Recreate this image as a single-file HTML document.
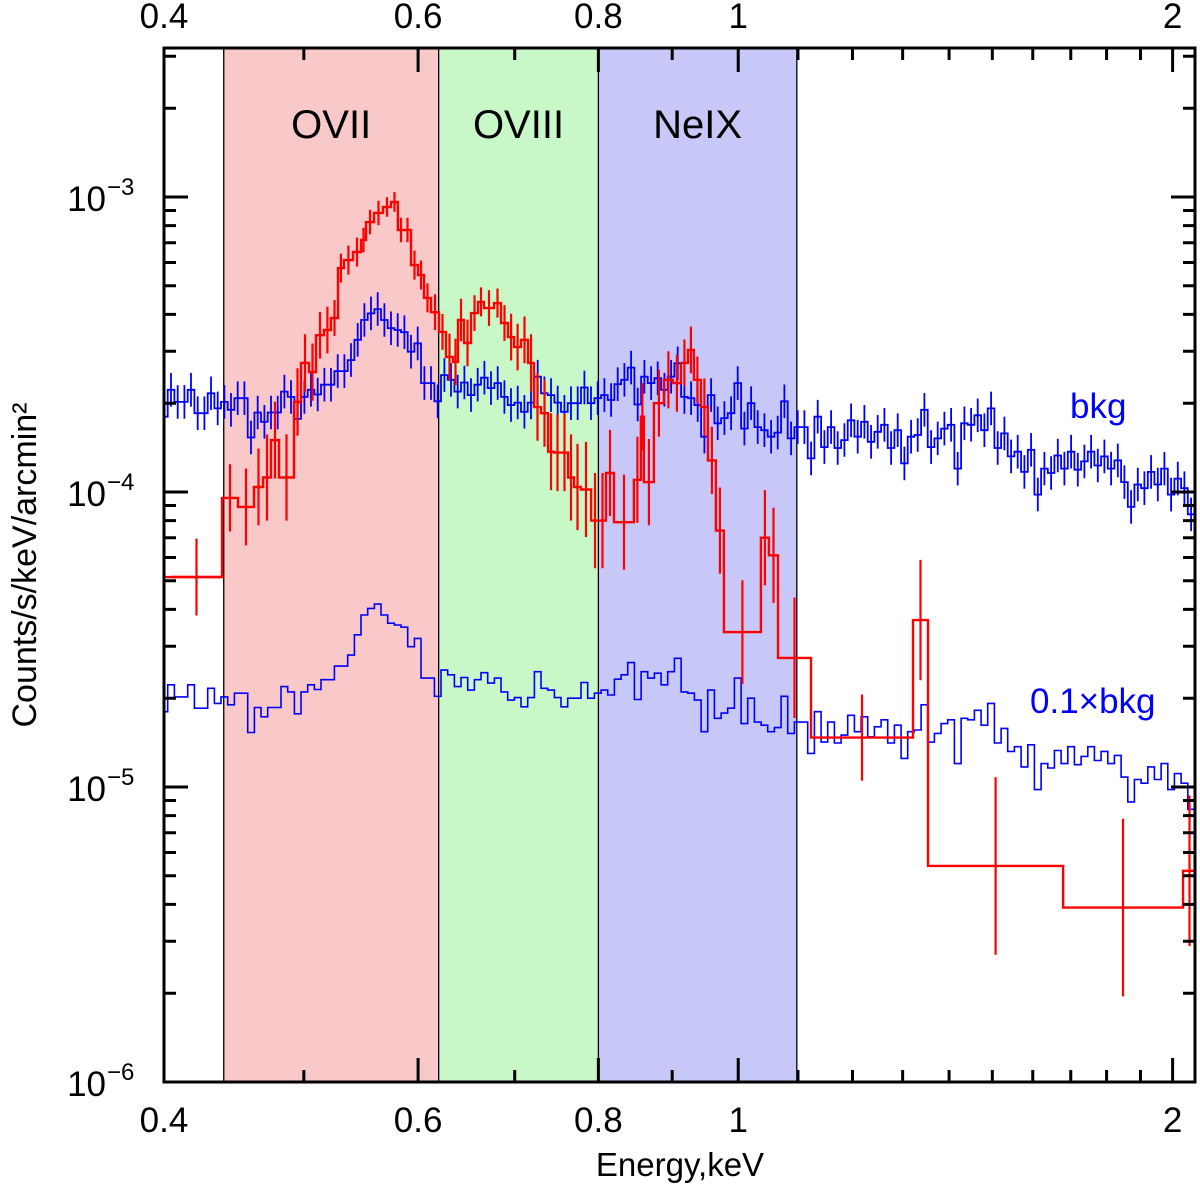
<!DOCTYPE html>
<html><head><meta charset="utf-8"><style>
html,body{margin:0;padding:0;background:#fff;}
svg{display:block;font-family:"Liberation Sans",sans-serif;}
</style></head>
<body>
<svg id="chart" width="1200" height="1186" viewBox="0 0 1200 1186" xmlns="http://www.w3.org/2000/svg"></svg>
<script>
// ---- data ----
const bandNames = ["OVII","OVIII","NeIX"];
const bandLo = [0.44, 0.62, 0.80];
const bandHi = [0.62, 0.80, 1.098];
const bandColors = ["#f9c8c8","#c8f8c8","#c8c8f8"];
const xTickLabels = [0.4, 0.6, 0.8, 1, 2];
const xMinorTicks = [0.5,0.7,0.9,1.1,1.2,1.3,1.4,1.5,1.6,1.7,1.8,1.9];
const yDecades = [-6,-5,-4,-3];
// source spectrum (red): bin edges (keV), values (1e-5 counts/s/keV/arcmin2), fractional errors
const srcEdges = [0.4045,0.4388,0.4501,0.4618,0.4685,0.4745,0.4806,0.4922,0.4977,0.5041,
0.5098,0.5163,0.5221,0.5280,0.5330,0.5408,0.5478,0.5521,0.5592,0.5673,
0.5746,0.5810,0.5867,0.5932,0.5999,0.6057,0.6125,0.6203,0.6273,0.6344,
0.6394,0.6456,0.6528,0.6602,0.6665,0.6773,0.6849,0.6926,0.6993,0.7071,
0.7150,0.7219,0.7300,0.7383,0.7453,0.7537,0.7622,0.7695,0.7781,0.7907,
0.8008,0.8098,0.8202,0.8467,0.8562,0.8603,0.8741,0.8882,0.9010,0.9126,
0.9228,0.9317,0.9422,0.9528,0.9650,0.9774,1.0369,1.0502,1.0655,1.1232,
1.3217,1.3537,1.6793,2.0333,2.0760];
const srcVals = [5.15,9.55,8.9,10.4,11.2,15.0,11.2,20.2,27.4,25.5,
34.0,35.4,38.9,57.4,61.1,65.1,71.5,82.2,88.3,92.5,
96.2,77.3,77.3,58.8,54.4,45.5,40.7,34.9,28.7,27.6,
38.3,32.0,40.4,44.1,42.0,43.7,37.4,33.5,31.0,32.8,
27.4,19.4,18.5,13.7,13.6,13.6,11.2,10.4,10.2,8.0,
8.0,11.6,7.9,11.0,18.0,10.8,20.0,24.0,23.4,27.4,
30.3,24.0,19.4,12.8,7.4,3.35,7.0,6.1,2.74,1.47,
3.68,0.54,0.39,0.52];
const srcErr = [0.35,0.3,0.35,0.35,0.4,0.35,0.4,0.3,0.25,0.25,
0.2,0.2,0.15,0.12,0.12,0.12,0.1,0.1,0.1,0.08,
0.08,0.1,0.1,0.12,0.12,0.12,0.15,0.15,0.2,0.2,
0.18,0.2,0.15,0.12,0.15,0.12,0.15,0.2,0.2,0.2,
0.25,0.3,0.3,0.35,0.35,0.35,0.4,0.4,0.45,0.45,
0.45,0.4,0.45,0.4,0.3,0.4,0.3,0.25,0.25,0.2,
0.2,0.2,0.25,0.3,0.4,0.5,0.45,0.45,0.6,0.4,
0.6,1.0,1.0,0.8];
// background spectrum (blue): log-uniform bins, values in 1e-4 units
const bkgEmin = 0.3981, bkgEmax = 2.093;
const bkgVals = [1.80,2.22,2.02,2.02,2.22,1.85,1.85,2.16,1.92,2.02,
1.90,2.08,2.08,1.53,1.86,1.73,1.86,1.86,2.19,2.10,
1.77,2.10,2.22,2.14,2.31,2.31,2.57,2.57,2.80,3.28,
3.83,4.03,4.17,3.83,3.59,3.54,3.48,2.99,3.19,2.34,
2.34,2.03,2.49,2.40,2.19,2.35,2.13,2.31,2.44,2.25,
2.34,2.10,1.97,2.01,1.87,2.01,2.46,2.16,2.13,2.01,
1.87,2.00,2.00,2.26,2.00,2.08,2.13,2.05,
2.32,2.40,2.64,1.98,2.46,2.34,2.43,2.22,2.46,2.73,
2.10,2.08,1.97,1.54,2.13,1.71,1.78,1.85,2.34,1.64,
2.00,1.66,1.62,1.54,1.59,2.03,1.52,1.66,1.66,1.30,
1.80,1.42,1.66,1.41,1.50,1.75,1.54,1.73,1.48,1.60,
1.69,1.41,1.62,1.25,1.54,1.56,1.90,1.42,1.52,1.64,
1.69,1.20,1.71,1.69,1.82,1.62,1.92,1.41,1.58,1.32,
1.37,1.17,1.39,0.98,1.20,1.16,1.33,1.20,1.37,1.19,
1.27,1.37,1.23,1.32,1.20,1.28,1.08,0.89,1.06,1.03,
1.17,1.06,1.20,0.98,1.11,1.03,0.84,1.00];
const bkgErrFrac = 0.14;
const bkgScale = 0.1;

// ---- axes ----
const L=164, R=1195, T=48, B=1082;
const xLog0 = Math.log10(0.4), pxPerDecX = 1443;
const yTopLog = -3 + (197-T)/295;
function xs(e){ return L + (Math.log10(e)-xLog0)*pxPerDecX; }
function ys(v){ return T + (yTopLog - Math.log10(v))*295; }
const NS="http://www.w3.org/2000/svg";
const svg=document.getElementById('chart');
function mk(tag, attrs, parent){ const e=document.createElementNS(NS,tag); for(const k in attrs) e.setAttribute(k,attrs[k]); (parent||svg).appendChild(e); return e; }

const defs=mk('defs',{});
const cp=mk('clipPath',{id:'plotclip'},defs);
mk('rect',{x:L,y:T,width:R-L,height:B-T},cp);

// bands
const bandG=mk('g',{});


bandNames.forEach((n,i)=>{
  const x0=xs(bandLo[i]), x1=xs(bandHi[i]);
  const r=mk('rect',{x:x0,y:T,width:x1-x0,height:B-T,fill:bandColors[i]},bandG);
  
  
  const t=mk('text',{x:(x0+x1)/2,y:138,'font-size':40,'text-anchor':'middle',fill:'#000'},bandG);
  t.textContent=n;
  
  
});
[bandLo[0],bandLo[1],bandLo[2],bandHi[2]].forEach(e=>{
  mk('line',{x1:xs(e),x2:xs(e),y1:T,y2:B,stroke:'#000','stroke-width':1.3},bandG);
});

const plotG=mk('g',{'clip-path':'url(#plotclip)'});

function bkgEdge(i){ return bkgEmin*Math.pow(bkgEmax/bkgEmin, i/bkgVals.length); }
function stepPath(n, edgeFn, valFn){
  let d='';
  for(let i=0;i<n;i++){
    const x0=xs(edgeFn(i)), x1=xs(edgeFn(i+1)), y=ys(valFn(i));
    d += (i===0?'M':'L')+x0.toFixed(1)+','+y.toFixed(1)+'L'+x1.toFixed(1)+','+y.toFixed(1);
  }
  return d;
}
const bkgG=mk('g',{},plotG);


const bkgLine=mk('path',{d:stepPath(bkgVals.length,bkgEdge,i=>bkgVals[i]*1e-4),fill:'none',stroke:'#0000ff','stroke-width':1.8},bkgG);


let eb='';
bkgVals.forEach((v,i)=>{
  const xc=xs(Math.sqrt(bkgEdge(i)*bkgEdge(i+1)));
  const val=v*1e-4;
  eb+='M'+xc.toFixed(1)+','+ys(val*(1+bkgErrFrac)).toFixed(1)+'L'+xc.toFixed(1)+','+ys(val/(1+bkgErrFrac)).toFixed(1);
});
const bkgErr=mk('path',{d:eb,stroke:'#0000ff','stroke-width':1.8,fill:'none'},bkgG);


const bkgScaled=mk('path',{d:stepPath(bkgVals.length,bkgEdge,i=>bkgVals[i]*1e-4*bkgScale),fill:'none',stroke:'#0000ff','stroke-width':1.6},plotG);



const srcG=mk('g',{},plotG);


const srcLine=mk('path',{d:stepPath(srcVals.length,i=>srcEdges[i],i=>srcVals[i]*1e-5),fill:'none',stroke:'#ff0000','stroke-width':2.4},srcG);


let se='';
srcVals.forEach((v,i)=>{
  const xc=xs(Math.sqrt(srcEdges[i]*srcEdges[i+1]));
  const val=v*1e-5, f=srcErr[i];
  se+='M'+xc.toFixed(1)+','+ys(val*(1+f)).toFixed(1)+'L'+xc.toFixed(1)+','+ys(val/(1+f)).toFixed(1);
});
const srcErrP=mk('path',{d:se,stroke:'#ff0000','stroke-width':2.2,fill:'none'},srcG);


mk('line',{x1:L,x2:xs(srcEdges[1]),y1:ys(srcVals[0]*1e-5),y2:ys(srcVals[0]*1e-5),stroke:'#ff0000','stroke-width':2.4},srcG);

const axG=mk('g',{});


mk('rect',{x:L,y:T,width:R-L,height:B-T,fill:'none',stroke:'#000','stroke-width':3},axG);
let tk='';
xTickLabels.forEach(v=>{const x=xs(v); tk+=`M${x},${B}L${x},${B-24}M${x},${T}L${x},${T+24}`;});
xMinorTicks.forEach(v=>{const x=xs(v); tk+=`M${x},${B}L${x},${B-12}M${x},${T}L${x},${T+12}`;});
yDecades.forEach(d=>{
  const y=ys(Math.pow(10,d)); tk+=`M${L},${y}L${L+24},${y}M${R},${y}L${R-24},${y}`;
  for(let m=2;m<=9;m++){const yy=ys(m*Math.pow(10,d)); if(yy>T&&yy<B) tk+=`M${L},${yy}L${L+12},${yy}M${R},${yy}L${R-12},${yy}`;}
});
mk('path',{d:tk,stroke:'#000','stroke-width':3,fill:'none'},axG);

xTickLabels.forEach(v=>{
  const b=mk('text',{x:xs(v),y:1132,'font-size':35,'text-anchor':'middle'},axG);
  b.textContent=String(v);
  
  
  const t=mk('text',{x:xs(v),y:28,'font-size':35,'text-anchor':'middle'},axG);
  t.textContent=String(v);
  
  
});
yDecades.forEach(d=>{
  const y=ys(Math.pow(10,d));
  const t=mk('text',{x:106,y:y+14,'font-size':35,'text-anchor':'end'},axG);
  t.textContent='10';
  
  
  const s=mk('text',{x:107,y:y-2,'font-size':24,'text-anchor':'start'},axG);
  s.textContent='\u2212'+(-d);
  
  
});
</script>
<svg style="position:absolute;left:0;top:0" width="1200" height="1186">
<text x="680" y="1176" font-family="Liberation Sans, sans-serif" font-size="33" text-anchor="middle">Energy,keV</text>
<text transform="translate(36,565) rotate(-90)" font-family="Liberation Sans, sans-serif" font-size="34" text-anchor="middle">Counts/s/keV/arcmin²</text>
<text x="1070" y="418" font-family="Liberation Sans, sans-serif" font-size="35" fill="#0000ff">bkg</text>
<text x="1030" y="713" font-family="Liberation Sans, sans-serif" font-size="35" fill="#0000ff">0.1×bkg</text>
</svg>
</body></html>
